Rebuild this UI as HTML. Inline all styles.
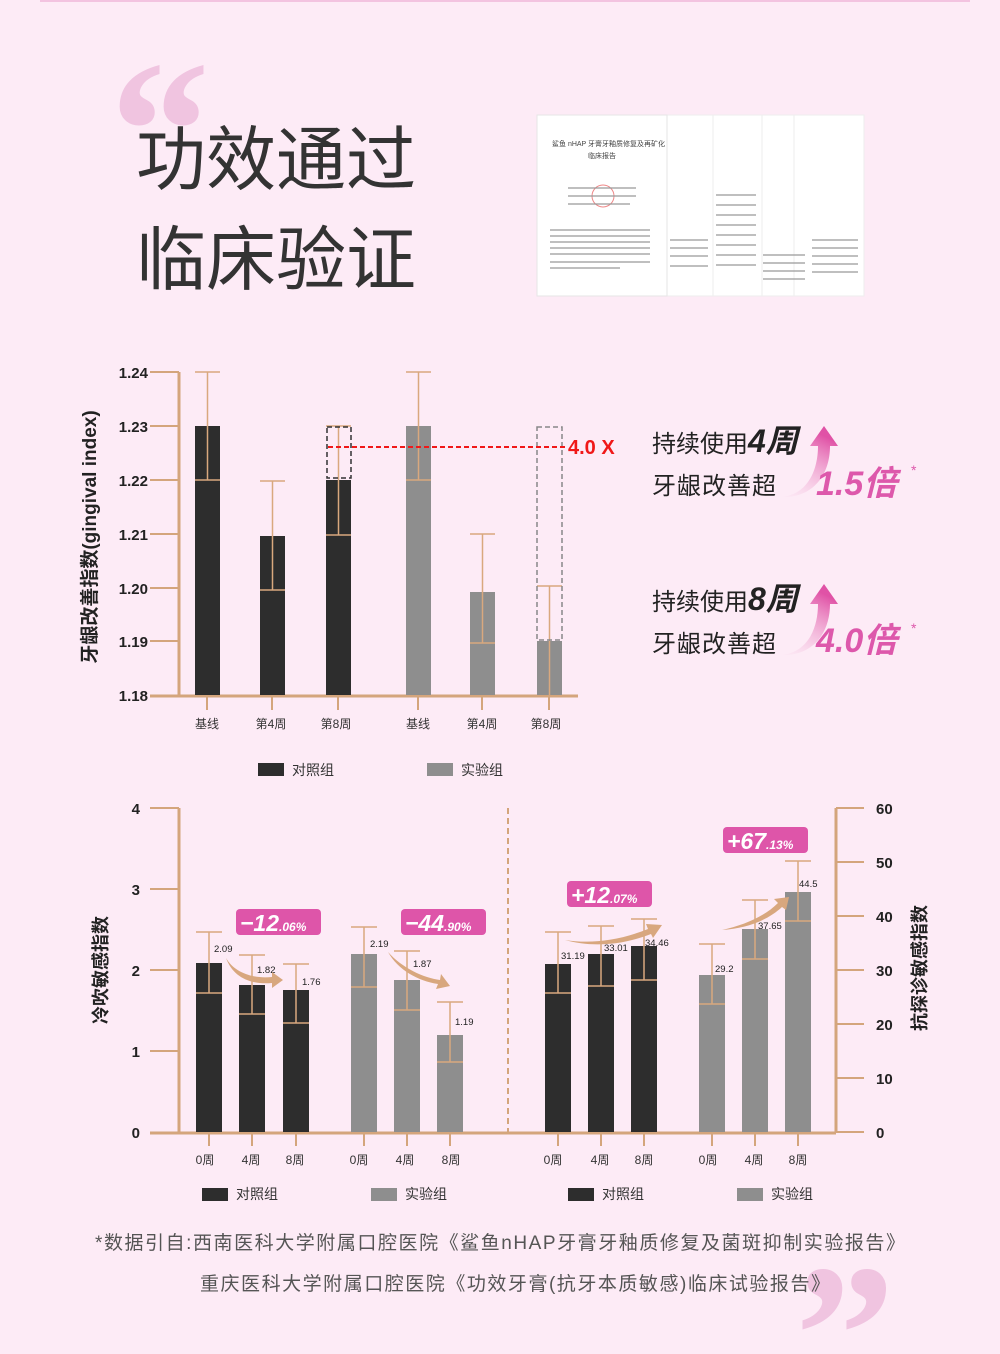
<!DOCTYPE html>
<html><head><meta charset="utf-8"><style>
html,body{margin:0;padding:0;}
body{width:1000px;height:1354px;background:#fdebf6;position:relative;overflow:hidden;font-family:"Liberation Sans","Noto Sans CJK SC",sans-serif;}
.abs{position:absolute;}
</style></head><body>
<div class="abs" style="left:40px;top:0;width:930px;height:2px;background:#f3c3e0"></div>
<svg class="abs" style="left:0;top:0" width="1000" height="1354" xmlns="http://www.w3.org/2000/svg" font-family="Liberation Sans, Noto Sans CJK SC, sans-serif">
<!-- quote marks -->
<text x="110" y="198" font-size="200" fill="#f0c4e0" font-family="Liberation Serif, serif" font-weight="bold">“</text>
<text x="795" y="1402" font-size="200" fill="#f0c4e0" font-family="Liberation Serif, serif" font-weight="bold">”</text>
<!-- title -->
<text x="136" y="184" font-size="70" fill="#333">功效通过</text>
<text x="136" y="284" font-size="70" fill="#333">临床验证</text>
<!-- documents -->
<g>
<rect x="760" y="115" width="104" height="181" fill="#fff" stroke="#eee"/>
<rect x="714" y="115" width="80" height="181" fill="#fff" stroke="#eee"/>
<rect x="664" y="115" width="98" height="181" fill="#fff" stroke="#eee"/>
<rect x="609" y="115" width="104" height="181" fill="#fff" stroke="#eee"/>
<rect x="537" y="115" width="130" height="181" fill="#fff" stroke="#e6e6e6"/>
<text x="552" y="146" font-size="7" fill="#444">鲨鱼 nHAP 牙膏牙釉质修复及再矿化</text>
<text x="588" y="158" font-size="7" fill="#444">临床报告</text>
<circle cx="603" cy="196" r="11" fill="none" stroke="#e88" stroke-width="1"/>
<g stroke="#999" stroke-width="1.2">
<line x1="568" y1="188" x2="636" y2="188"/><line x1="568" y1="196" x2="636" y2="196"/><line x1="568" y1="204" x2="630" y2="204"/>
<line x1="550" y1="230" x2="650" y2="230"/><line x1="550" y1="236" x2="650" y2="236"/><line x1="550" y1="242" x2="650" y2="242"/><line x1="550" y1="248" x2="650" y2="248"/><line x1="550" y1="254" x2="650" y2="254"/><line x1="550" y1="262" x2="650" y2="262"/><line x1="550" y1="268" x2="620" y2="268"/>
<line x1="670" y1="240" x2="708" y2="240"/><line x1="670" y1="248" x2="708" y2="248"/><line x1="670" y1="256" x2="708" y2="256"/><line x1="670" y1="266" x2="708" y2="266"/>
<line x1="716" y1="195" x2="756" y2="195"/><line x1="716" y1="205" x2="756" y2="205"/><line x1="716" y1="215" x2="756" y2="215"/><line x1="716" y1="225" x2="756" y2="225"/><line x1="716" y1="235" x2="756" y2="235"/><line x1="716" y1="245" x2="756" y2="245"/><line x1="716" y1="255" x2="756" y2="255"/><line x1="716" y1="265" x2="756" y2="265"/>
<line x1="763" y1="255" x2="805" y2="255"/><line x1="763" y1="263" x2="805" y2="263"/><line x1="763" y1="271" x2="805" y2="271"/><line x1="763" y1="279" x2="805" y2="279"/>
<line x1="812" y1="240" x2="858" y2="240"/><line x1="812" y1="248" x2="858" y2="248"/><line x1="812" y1="256" x2="858" y2="256"/><line x1="812" y1="264" x2="858" y2="264"/><line x1="812" y1="272" x2="858" y2="272"/>
</g>
</g>

<!-- ===== TOP CHART ===== -->
<g stroke="#d4a57c" stroke-width="3">
<line x1="179" y1="372" x2="179" y2="696"/>
<line x1="150" y1="696" x2="578" y2="696"/>
</g>
<g stroke="#d4a57c" stroke-width="2">
<line x1="150" y1="372" x2="179" y2="372"/><line x1="150" y1="426" x2="179" y2="426"/><line x1="150" y1="480" x2="179" y2="480"/><line x1="150" y1="534" x2="179" y2="534"/><line x1="150" y1="588" x2="179" y2="588"/><line x1="150" y1="641" x2="179" y2="641"/>
<line x1="207" y1="696" x2="207" y2="710"/><line x1="272" y1="696" x2="272" y2="710"/><line x1="338" y1="696" x2="338" y2="710"/><line x1="418" y1="696" x2="418" y2="710"/><line x1="482" y1="696" x2="482" y2="710"/><line x1="549" y1="696" x2="549" y2="710"/>
</g>
<g font-size="15" font-weight="bold" fill="#222" text-anchor="end">
<text x="148" y="378">1.24</text><text x="148" y="432">1.23</text><text x="148" y="486">1.22</text><text x="148" y="540">1.21</text><text x="148" y="594">1.20</text><text x="148" y="647">1.19</text><text x="148" y="701">1.18</text>
</g>
<text transform="translate(96,537) rotate(-90)" font-size="19" font-weight="bold" fill="#222" text-anchor="middle">牙龈改善指数(gingival index)</text>
<rect x="195" y="426" width="25" height="269" fill="#2d2d2d"/>
<rect x="260" y="536" width="25" height="159" fill="#2d2d2d"/>
<rect x="326" y="480" width="25" height="215" fill="#2d2d2d"/>
<rect x="406" y="426" width="25" height="269" fill="#8e8e8e"/>
<rect x="470" y="592" width="25" height="103" fill="#8e8e8e"/>
<rect x="537" y="641" width="25" height="54" fill="#8e8e8e"/>
<g stroke="#d9a87e" stroke-width="1.5">
<line x1="207.5" y1="372" x2="207.5" y2="480"/><line x1="195" y1="372" x2="220" y2="372"/><line x1="195" y1="480" x2="220" y2="480"/>
<line x1="272.5" y1="481" x2="272.5" y2="590"/><line x1="260" y1="481" x2="285" y2="481"/><line x1="260" y1="590" x2="285" y2="590"/>
<line x1="338.5" y1="426" x2="338.5" y2="535"/><line x1="326" y1="426" x2="351" y2="426"/><line x1="326" y1="535" x2="351" y2="535"/>
<line x1="418.5" y1="372" x2="418.5" y2="480"/><line x1="406" y1="372" x2="431" y2="372"/><line x1="406" y1="480" x2="431" y2="480"/>
<line x1="482.5" y1="534" x2="482.5" y2="643"/><line x1="470" y1="534" x2="495" y2="534"/><line x1="470" y1="643" x2="495" y2="643"/>
<line x1="549.5" y1="586" x2="549.5" y2="695"/><line x1="537" y1="586" x2="562" y2="586"/>
</g>
<rect x="327" y="427" width="24" height="51" fill="none" stroke="#333" stroke-width="1.5" stroke-dasharray="5,3"/>
<rect x="537" y="427" width="25" height="213" fill="none" stroke="#888" stroke-width="1.5" stroke-dasharray="5,3"/>
<line x1="328" y1="447" x2="565" y2="447" stroke="#f01818" stroke-width="2" stroke-dasharray="5,3"/>
<text x="568" y="454" font-size="20" font-weight="bold" fill="#f01818">4.0 X</text>
<g font-size="12" fill="#333" text-anchor="middle">
<text x="207" y="728">基线</text><text x="271" y="728">第4周</text><text x="336" y="728">第8周</text><text x="418" y="728">基线</text><text x="482" y="728">第4周</text><text x="546" y="728">第8周</text>
</g>
<rect x="258" y="763" width="26" height="13" fill="#2d2d2d"/><text x="292" y="775" font-size="14" fill="#333">对照组</text>
<rect x="427" y="763" width="26" height="13" fill="#8e8e8e"/><text x="461" y="775" font-size="14" fill="#333">实验组</text>

<!-- right promo text -->
<defs>
<linearGradient id="ag" x1="0" y1="1" x2="0.4" y2="0"><stop offset="0" stop-color="#fbe3f1" stop-opacity="0.3"/><stop offset="1" stop-color="#e052a6"/></linearGradient>
</defs>
<path d="M782,497 C808,494 818,470 818,446 L810,446 L824,426 L838,446 L830,446 C830,476 812,498 782,497 Z" fill="url(#ag)"/>
<path d="M782,655 C808,652 818,628 818,604 L810,604 L824,584 L838,604 L830,604 C830,634 812,656 782,655 Z" fill="url(#ag)"/>
<text x="652" y="452" font-size="24" fill="#222">持续使用<tspan font-size="32" font-weight="bold" font-style="italic">4周</tspan></text>
<text x="652" y="494" font-size="24" fill="#222" letter-spacing="1">牙龈改善超</text>
<text x="816" y="495" font-size="34" font-weight="bold" font-style="italic" fill="#dd58ab">1.5倍</text>
<text x="911" y="475" font-size="14" fill="#dd58ab">*</text>
<text x="652" y="610" font-size="24" fill="#222">持续使用<tspan font-size="32" font-weight="bold" font-style="italic">8周</tspan></text>
<text x="652" y="652" font-size="24" fill="#222" letter-spacing="1">牙龈改善超</text>
<text x="816" y="652" font-size="34" font-weight="bold" font-style="italic" fill="#dd58ab">4.0倍</text>
<text x="911" y="633" font-size="14" fill="#dd58ab">*</text>

<!-- ===== BOTTOM CHART ===== -->
<g stroke="#d4a57c" stroke-width="3">
<line x1="179" y1="808" x2="179" y2="1133"/>
<line x1="836" y1="808" x2="836" y2="1133"/>
<line x1="150" y1="1133" x2="836" y2="1133"/>
</g>
<g stroke="#d4a57c" stroke-width="2">
<line x1="150" y1="808" x2="179" y2="808"/><line x1="150" y1="889" x2="179" y2="889"/><line x1="150" y1="970" x2="179" y2="970"/><line x1="150" y1="1051" x2="179" y2="1051"/>
<line x1="836" y1="808" x2="864" y2="808"/><line x1="836" y1="862" x2="864" y2="862"/><line x1="836" y1="916" x2="864" y2="916"/><line x1="836" y1="970" x2="864" y2="970"/><line x1="836" y1="1024" x2="864" y2="1024"/><line x1="836" y1="1078" x2="864" y2="1078"/><line x1="836" y1="1132" x2="864" y2="1132"/>
<line x1="209" y1="1133" x2="209" y2="1146"/><line x1="252" y1="1133" x2="252" y2="1146"/><line x1="296" y1="1133" x2="296" y2="1146"/><line x1="364" y1="1133" x2="364" y2="1146"/><line x1="407" y1="1133" x2="407" y2="1146"/><line x1="450" y1="1133" x2="450" y2="1146"/>
<line x1="558" y1="1133" x2="558" y2="1146"/><line x1="601" y1="1133" x2="601" y2="1146"/><line x1="644" y1="1133" x2="644" y2="1146"/><line x1="712" y1="1133" x2="712" y2="1146"/><line x1="755" y1="1133" x2="755" y2="1146"/><line x1="798" y1="1133" x2="798" y2="1146"/>
</g>
<line x1="508" y1="808" x2="508" y2="1132" stroke="#d4a57c" stroke-width="2" stroke-dasharray="6,4"/>
<g font-size="15" font-weight="bold" fill="#222">
<text x="140" y="814" text-anchor="end">4</text><text x="140" y="895" text-anchor="end">3</text><text x="140" y="976" text-anchor="end">2</text><text x="140" y="1057" text-anchor="end">1</text><text x="140" y="1138" text-anchor="end">0</text>
<text x="876" y="814">60</text><text x="876" y="868">50</text><text x="876" y="922">40</text><text x="876" y="976">30</text><text x="876" y="1030">20</text><text x="876" y="1084">10</text><text x="876" y="1138">0</text>
</g>
<text transform="translate(107,970) rotate(-90)" font-size="18" font-weight="bold" fill="#222" text-anchor="middle">冷吹敏感指数</text>
<text transform="translate(926,968) rotate(-90)" font-size="18" font-weight="bold" fill="#222" text-anchor="middle">抗探诊敏感指数</text>
<!-- bars -->
<rect x="196" y="963" width="26" height="169" fill="#2d2d2d"/>
<rect x="239" y="985" width="26" height="147" fill="#2d2d2d"/>
<rect x="283" y="990" width="26" height="142" fill="#2d2d2d"/>
<rect x="351" y="954" width="26" height="178" fill="#8e8e8e"/>
<rect x="394" y="980" width="26" height="152" fill="#8e8e8e"/>
<rect x="437" y="1035" width="26" height="97" fill="#8e8e8e"/>
<rect x="545" y="964" width="26" height="168" fill="#2d2d2d"/>
<rect x="588" y="954" width="26" height="178" fill="#2d2d2d"/>
<rect x="631" y="946" width="26" height="186" fill="#2d2d2d"/>
<rect x="699" y="975" width="26" height="157" fill="#8e8e8e"/>
<rect x="742" y="929" width="26" height="203" fill="#8e8e8e"/>
<rect x="785" y="892" width="26" height="240" fill="#8e8e8e"/>
<g stroke="#d9a87e" stroke-width="1.5">
<line x1="209" y1="932" x2="209" y2="993"/><line x1="196" y1="932" x2="222" y2="932"/><line x1="196" y1="993" x2="222" y2="993"/>
<line x1="252" y1="955" x2="252" y2="1014"/><line x1="239" y1="955" x2="265" y2="955"/><line x1="239" y1="1014" x2="265" y2="1014"/>
<line x1="296" y1="964" x2="296" y2="1023"/><line x1="283" y1="964" x2="309" y2="964"/><line x1="283" y1="1023" x2="309" y2="1023"/>
<line x1="364" y1="927" x2="364" y2="987"/><line x1="351" y1="927" x2="377" y2="927"/><line x1="351" y1="987" x2="377" y2="987"/>
<line x1="407" y1="951" x2="407" y2="1010"/><line x1="394" y1="951" x2="420" y2="951"/><line x1="394" y1="1010" x2="420" y2="1010"/>
<line x1="450" y1="1002" x2="450" y2="1062"/><line x1="437" y1="1002" x2="463" y2="1002"/><line x1="437" y1="1062" x2="463" y2="1062"/>
<line x1="558" y1="932" x2="558" y2="993"/><line x1="545" y1="932" x2="571" y2="932"/><line x1="545" y1="993" x2="571" y2="993"/>
<line x1="601" y1="926" x2="601" y2="986"/><line x1="588" y1="926" x2="614" y2="926"/><line x1="588" y1="986" x2="614" y2="986"/>
<line x1="644" y1="919" x2="644" y2="980"/><line x1="631" y1="919" x2="657" y2="919"/><line x1="631" y1="980" x2="657" y2="980"/>
<line x1="712" y1="944" x2="712" y2="1004"/><line x1="699" y1="944" x2="725" y2="944"/><line x1="699" y1="1004" x2="725" y2="1004"/>
<line x1="755" y1="900" x2="755" y2="959"/><line x1="742" y1="900" x2="768" y2="900"/><line x1="742" y1="959" x2="768" y2="959"/>
<line x1="798" y1="861" x2="798" y2="921"/><line x1="785" y1="861" x2="811" y2="861"/><line x1="785" y1="921" x2="811" y2="921"/>
</g>
<g font-size="9.5" fill="#222">
<text x="214" y="952">2.09</text><text x="257" y="973">1.82</text><text x="302" y="985">1.76</text>
<text x="370" y="947">2.19</text><text x="413" y="967">1.87</text><text x="455" y="1025">1.19</text>
<text x="561" y="959">31.19</text><text x="604" y="951">33.01</text><text x="645" y="946">34.46</text>
<text x="715" y="972">29.2</text><text x="758" y="929">37.65</text><text x="799" y="887">44.5</text>
</g>
<!-- arrows -->
<g fill="#d8a77e">
<path d="M226,958 C234,972 252,979 272,977 L272,972 L283,980 L272,988 L272,983 C250,985 233,977 226,958 Z"/>
<path d="M388,952 C402,968 424,978 440,980 L441,974 L450,986 L436,989 L438,984 C418,981 398,970 388,952 Z"/>
<path d="M565,940 C590,944 618,941 648,929 L646,924 L662,925 L653,938 L651,934 C620,946 590,947 565,940 Z"/>
<path d="M722,930 C745,925 765,916 778,903 L774,899 L789,897 L786,910 L782,907 C768,920 748,928 722,930 Z"/>
</g>
<!-- badges -->
<g>
<rect x="236" y="909" width="85" height="26" rx="4" fill="#de55a9"/>
<text x="240" y="931" font-size="23" font-weight="bold" font-style="italic" fill="#fff">−12<tspan font-size="12">.06%</tspan></text>
<rect x="401" y="909" width="85" height="26" rx="4" fill="#de55a9"/>
<text x="405" y="931" font-size="23" font-weight="bold" font-style="italic" fill="#fff">−44<tspan font-size="12">.90%</tspan></text>
<rect x="567" y="881" width="85" height="26" rx="4" fill="#de55a9"/>
<text x="571" y="903" font-size="23" font-weight="bold" font-style="italic" fill="#fff">+12<tspan font-size="12">.07%</tspan></text>
<rect x="723" y="827" width="85" height="26" rx="4" fill="#de55a9"/>
<text x="727" y="849" font-size="23" font-weight="bold" font-style="italic" fill="#fff">+67<tspan font-size="12">.13%</tspan></text>
</g>
<g font-size="12" fill="#333" text-anchor="middle">
<text x="205" y="1164">0周</text><text x="251" y="1164">4周</text><text x="295" y="1164">8周</text>
<text x="359" y="1164">0周</text><text x="405" y="1164">4周</text><text x="451" y="1164">8周</text>
<text x="553" y="1164">0周</text><text x="600" y="1164">4周</text><text x="644" y="1164">8周</text>
<text x="708" y="1164">0周</text><text x="754" y="1164">4周</text><text x="798" y="1164">8周</text>
</g>
<g font-size="14" fill="#333">
<rect x="202" y="1188" width="26" height="13" fill="#2d2d2d"/><text x="236" y="1199">对照组</text>
<rect x="371" y="1188" width="26" height="13" fill="#8e8e8e"/><text x="405" y="1199">实验组</text>
<rect x="568" y="1188" width="26" height="13" fill="#2d2d2d"/><text x="602" y="1199">对照组</text>
<rect x="737" y="1188" width="26" height="13" fill="#8e8e8e"/><text x="771" y="1199">实验组</text>
</g>
<!-- footer -->
<text x="95" y="1249" font-size="19" fill="#555" textLength="810" lengthAdjust="spacing">*数据引自:西南医科大学附属口腔医院《鲨鱼nHAP牙膏牙釉质修复及菌斑抑制实验报告》</text>
<text x="200" y="1290" font-size="19" fill="#555" textLength="630" lengthAdjust="spacing">重庆医科大学附属口腔医院《功效牙膏(抗牙本质敏感)临床试验报告》</text>
</svg>
</body></html>
